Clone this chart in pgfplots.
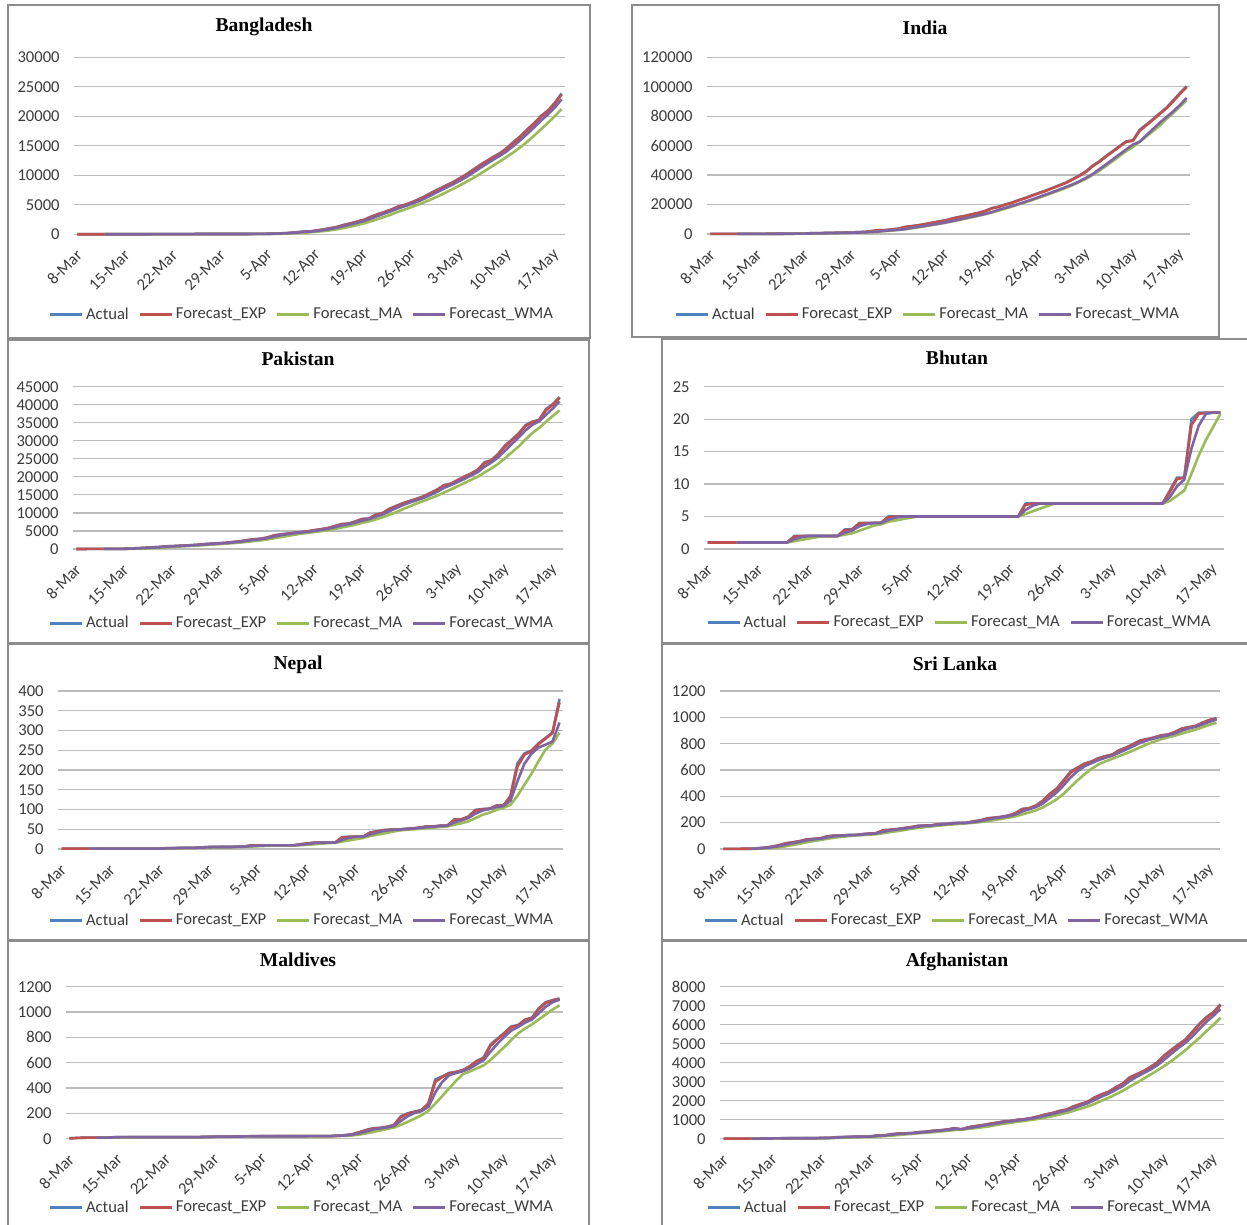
\documentclass[border=0pt]{standalone}
\usepackage{pgfplots}
\pgfplotsset{compat=1.18}
\usepackage{pgfplotstable}
\usepackage{fontspec}
\setmainfont{Carlito}
\newfontfamily\serifface{Liberation Serif}

\definecolor{cActual}{HTML}{4F81BD}
\definecolor{cExp}{HTML}{C0504D}
\definecolor{cMA}{HTML}{9BBB59}
\definecolor{cWMA}{HTML}{8064A2}
\definecolor{gridgray}{RGB}{188,188,188}
\definecolor{boxgray}{RGB}{140,140,140}
\definecolor{labelgray}{RGB}{60,60,60}

\newcommand{\lbl}{\fontsize{8.3}{10}\selectfont}
\newcommand{\ttl}{\fontsize{9.8}{12}\selectfont\serifface\bfseries}

% columns: day index (0 = 8 Mar), actual, exponential smoothing, weighted MA, 5-day MA
\pgfplotstableread{
d A E W M
0 3 3 nan nan
1 3 3 nan nan
2 3 3 nan nan
3 3 3 nan nan
4 3 3 3 3
5 3 3 3 3
6 3 3 3 3
7 5 4.8 4 3.4
8 8 7.7 6.2 4.4
9 10 9.8 8.5 5.8
10 14 13.6 11.7 8
11 17 16.7 14.8 10.8
12 20 19.7 18 13.8
13 24 23.6 21.5 17
14 27 26.7 24.8 20.4
15 33 32.4 29.5 24.2
16 39 38.3 35 28.6
17 39 38.9 38 32.4
18 44 43.5 41.5 36.4
19 48 47.6 45.2 40.6
20 48 48 47.3 43.6
21 48 48 48 45.4
22 49 48.9 48.5 47.4
23 51 50.8 49.8 48.8
24 54 53.7 52.2 50
25 56 55.8 54.5 51.6
26 61 60.5 58.2 54.2
27 70 69.1 64.7 58.4
28 88 86.1 77.5 65.8
29 123 119 103 80
30 164 160 138 101
31 218 212 184 133
32 330 318 265 185
33 424 413 358 252
34 482 475 437 324
35 621 606 542 415
36 803 783 689 532
37 1012 989 877 668
38 1231 1207 1087 830
39 1572 1536 1365 1048
40 1838 1808 1648 1291
41 2144 2110 1947 1559
42 2456 2421 2249 1848
43 2948 2895 2650 2192
44 3382 3333 3083 2554
45 3772 3728 3505 2940
46 4186 4140 3914 3349
47 4689 4634 4369 3795
48 4998 4962 4760 4205
49 5416 5371 5156 4612
50 5913 5859 5595 5040
51 6462 6402 6105 5496
52 7103 7033 6691 5978
53 7667 7604 7278 6512
54 8238 8175 7859 7077
55 8790 8729 8419 7652
56 9455 9382 9031 8251
57 10143 10067 9688 8859
58 10929 10843 10421 9511
59 11719 11631 11193 10207
60 12425 12346 11940 10934
61 13134 13055 12662 11670
62 13770 13699 13334 12395
63 14657 14561 14108 13141
64 15691 15578 15026 13935
65 16660 16552 16003 14782
66 17822 17695 17080 15720
67 18863 18746 18149 16739
68 20065 19933 19291 17820
69 20995 20889 20330 18881
70 22268 22130 21477 20003
71 23870 23696 22857 21212
}\tBD

\pgfplotstableread{
d A E W M
0 39 39 nan nan
1 43 43 nan nan
2 56 55 nan nan
3 62 61 nan nan
4 73 72 57 55
5 82 81 67 63
6 102 100 76 75
7 113 112 91 86
8 119 118 104 98
9 142 140 114 112
10 156 154 130 126
11 194 190 145 145
12 244 239 173 171
13 330 321 213 213
14 396 389 279 264
15 499 488 349 333
16 536 531 437 401
17 657 644 500 484
18 727 719 590 563
19 887 870 672 661
20 987 975 795 759
21 1024 1019 910 856
22 1251 1228 989 975
23 1397 1380 1131 1109
24 1998 1936 1286 1331
25 2543 2482 1673 1643
26 2567 2559 2170 1951
27 3082 3030 2464 2317
28 3588 3532 2821 2756
29 4778 4653 3249 3312
30 5311 5245 4099 3865
31 5916 5849 4846 4535
32 6725 6637 5525 5264
33 7598 7502 6220 6066
34 8446 8352 7027 6799
35 9205 9120 7877 7578
36 10453 10320 8684 8485
37 11487 11370 9703 9438
38 12322 12227 10762 10383
39 13430 13310 11732 11379
40 14352 14248 12737 12409
41 15722 15575 13706 13463
42 17615 17411 14883 14688
43 18539 18426 16440 15932
44 20080 19915 17762 17262
45 21370 21225 19156 18665
46 23077 22892 20468 20136
47 24530 24366 22009 21519
48 26283 26091 23519 23068
49 27890 27710 25164 24630
50 29451 29277 26794 26246
51 31324 31119 28403 27896
52 33062 32868 30127 29602
53 34863 34664 31881 31318
54 37257 36998 33673 33191
55 39699 39429 35760 35241
56 42505 42197 38079 37477
57 46437 46013 40695 40152
58 49400 49061 44003 43060
59 52987 52594 47263 46206
60 56342 55967 50700 49534
61 59662 59293 54067 52966
62 62939 62574 57444 56266
63 63500 63407 60747 59086
64 70756 70021 62673 62640
65 74292 73865 67035 66230
66 78055 77636 71315 69908
67 81997 81561 75584 73720
68 85784 85362 79399 78177
69 90648 90119 83234 82155
70 95698 95140 87585 86436
71 100328 99809 92362 90891
}\tIN

\pgfplotstableread{
d A E W M
0 6 6 nan nan
1 6 6 nan nan
2 16 15 nan nan
3 19 18.6 nan nan
4 20 19.9 19 13.4
5 28 27.2 23.8 17.8
6 31 30.6 28.2 22.8
7 53 50.8 41.5 30.2
8 136 127.5 90.8 53.6
9 236 225.2 172.2 96.8
10 299 291.6 250.8 151
11 454 437.8 366 235.6
12 501 494.7 451.7 325.2
13 730 706.5 607.7 444
14 776 769.1 714.8 552
15 875 864.4 817.8 667.2
16 972 961.2 907 770.8
17 1063 1052.8 1001.3 883.2
18 1201 1186.2 1116.8 977.4
19 1373 1354.3 1264 1096.8
20 1495 1481 1405.3 1220.8
21 1597 1585.4 1525.7 1345.8
22 1717 1703.8 1640 1476.6
23 1938 1914.6 1807.5 1624
24 2118 2097.7 1991.2 1773
25 2421 2388.7 2239.5 1958.2
26 2686 2656.3 2503 2176
27 2818 2801.8 2707.8 2396.2
28 3157 3121.5 2965.5 2640
29 3766 3701.6 3405 2969.6
30 4035 4001.7 3799 3292.4
31 4263 4236.9 4104.2 3607.8
32 4489 4463.8 4338 3942
33 4695 4671.9 4554.3 4249.6
34 4892 4870 4759.2 4474.8
35 5230 5194 5028.2 4713.8
36 5496 5465.8 5306.7 4960.4
37 5837 5799.9 5622.2 5230
38 6383 6324.7 6053.2 5567.6
39 6919 6859.6 6560 5973
40 7025 7008.5 6882.7 6332
41 7638 7575.1 7313.8 6760.4
42 8348 8270.7 7890.8 7262.6
43 8418 8403.3 8264.7 7669.6
44 9565 9448.8 8979.8 8198.8
45 9972 9919.7 9577.3 8788.2
46 11155 11031.5 10495.7 9491.6
47 11940 11849.2 11350.3 10210
48 12723 12635.6 12200.7 11071
49 13328 13258.8 12895 11823.6
50 13915 13849.4 13520.7 12612.2
51 14612 14535.7 14165.7 13303.6
52 15525 15426.1 14952.3 14020.6
53 16473 16368.3 15846.8 14770.6
54 17699 17565.9 16928 15644.8
55 18114 18059.2 17702.2 16484.6
56 19103 18998.6 18539.3 17382.8
57 20084 19975.5 19428.7 18294.6
58 20941 20844.5 20349 19188.2
59 22049 21928.6 21352.2 20058.2
60 24073 23858.6 22876.3 21250
61 24644 24565.5 24021.2 22358.2
62 26435 26248.1 25444.3 23628.4
63 28736 28487.2 27287.3 25187.4
64 30334 30149.3 29151.5 26844.4
65 32081 31887.8 30941.2 28446
66 34336 34091.2 32917.3 30384.4
67 35298 35177.3 34441.2 32157
68 35788 35726.9 35382.7 33567.4
69 38799 38491.8 37211.8 35260.4
70 40151 39985.1 38973.2 36874.4
71 42125 41911 40912.7 38432.2
}\tPK

\pgfplotstableread{
d A E W M
0 1 1 nan nan
3 1 1 nan nan
4 1 1 1 1
11 1 1 1 1
12 2 1.9 1.5 1.2
13 2 1.99 1.83 1.4
14 2 2 2 1.6
15 2 2 2 1.8
16 2 2 2 2
18 2 2 2 2
19 3 2.9 2.5 2.2
20 3 2.99 2.83 2.4
21 4 3.9 3.5 2.8
22 4 3.99 3.83 3.2
23 4 4 4 3.6
24 4 4 4 3.8
25 5 4.9 4.5 4.2
26 5 4.99 4.83 4.4
27 5 5 5 4.6
28 5 5 5 4.8
29 5 5 5 5
43 5 5 5 5
44 7 6.8 6 5.4
45 7 6.98 6.67 5.8
46 7 7 7 6.2
47 7 7 7 6.6
48 7 7 7 7
63 7 7 7 7
64 9 8.8 8 7.4
65 11 10.78 9.67 8.2
66 11 10.98 10.67 9
67 20 19.1 15.5 11.6
68 21 20.81 19 14.4
69 21 20.98 20.83 16.8
70 21 21 21 18.8
71 21 21 21 20.8
}\tBT

\pgfplotstableread{
d A E W M
0 1 1 nan nan
3 1 1 nan nan
4 1 1 1 1
14 1 1 1 1
15 2 1.9 1.5 1.2
16 2 1.99 1.83 1.4
17 3 2.9 2.5 1.8
18 3 2.99 2.83 2.2
19 3 3 3 2.6
20 4 3.9 3.5 3
21 5 4.89 4.33 3.6
22 5 4.99 4.83 4
23 5 5 5 4.4
24 5 5 5 4.8
25 6 5.9 5.5 5.2
26 6 5.99 5.83 5.4
27 9 8.7 7.5 6.2
28 9 8.97 8.5 7
29 9 9 9 7.8
30 9 9 9 8.4
31 9 9 9 9
33 9 9 9 9
34 12 11.7 10.5 9.6
35 14 13.77 12.5 10.6
36 16 15.78 14.67 12
37 16 15.98 15.67 13.4
38 16 16 16 14.8
39 16 16 16 15.6
40 30 28.6 23 18.8
41 31 30.76 28.17 21.8
42 31 30.98 30.83 24.8
43 31 31 31 27.8
44 42 40.9 36.5 33
45 45 44.59 41.67 36
46 48 47.66 46 39.4
47 49 48.87 48 43
48 49 48.99 48.83 46.6
49 51 50.8 50 48.4
50 52 51.88 51.17 49.8
51 54 53.79 52.83 51
52 57 56.68 55.17 52.6
53 57 56.97 56.5 54.2
54 59 58.8 58 55.8
55 59 58.98 58.67 57.2
56 75 73.4 67 61.4
57 75 74.84 72.33 65
58 82 81.28 78.5 70
59 99 97.23 89.33 78
60 101 100.62 97.17 86.4
61 102 101.86 101.17 91.8
62 110 109.19 105.83 98.8
63 110 109.92 108.67 104.4
64 134 131.59 122 111.4
65 217 208.46 171.5 134.6
66 242 238.65 215.67 162.6
67 249 247.97 241.33 190.4
68 267 265.1 256.83 221.8
69 281 279.41 264 251.2
70 295 293.44 272 266.8
71 380 371.3 320 294.4
}\tNP

\pgfplotstableread{
d A E W M
0 1 1 nan nan
1 1 1 nan nan
2 1 1 nan nan
3 2 1.9 nan nan
4 2 1.99 1.83 1.4
5 6 5.6 4 2.4
6 10 9.56 7.33 4.2
7 18 17.16 13.33 7.6
8 28 26.92 21.67 12.8
9 44 42.29 34.33 21.2
10 51 50.13 44.83 30.2
11 60 59.01 54.33 40.2
12 73 71.6 65 51.2
13 77 76.46 72.83 61
14 82 81.45 78.83 68.6
15 97 95.44 88.67 77.8
16 102 101.34 97 86.2
17 102 101.93 101.17 92
18 106 105.59 104 97.8
19 106 105.96 105.33 102.6
20 113 112.3 109.5 105.8
21 117 116.53 113.83 108.8
22 120 119.65 117.83 112.4
23 143 140.66 131 119.8
24 146 145.47 140.67 127.8
25 151 150.45 148 135.4
26 159 158.14 154.17 143.8
27 166 165.21 161.17 153
28 176 174.92 169.83 159.6
29 178 177.69 175.33 166
30 180 179.77 178.67 171.8
31 189 188.08 184.17 177.8
32 190 189.81 188 182.6
33 197 196.28 193.33 186.8
34 198 197.83 196.33 190.8
35 199 198.88 198.33 194.6
36 210 208.89 204.33 198.8
37 217 216.19 211.67 204.2
38 233 231.32 223.83 211.4
39 238 237.33 232.83 219.4
40 244 243.33 240.17 228.4
41 254 252.93 248 237.2
42 271 269.19 260.83 248
43 304 300.52 284.67 262.2
44 310 309.05 301.5 276.6
45 330 327.9 319 293.8
46 368 363.99 345.67 316.6
47 420 414.4 387.67 346.4
48 460 455.44 431.33 377.6
49 523 516.24 484.83 420.2
50 588 580.82 545 471.8
51 619 615.18 592.67 522
52 649 645.62 628.83 567.8
53 665 663.06 652 608.8
54 690 687.31 674.83 642.2
55 705 703.23 693.33 665.6
56 718 716.52 709 685.4
57 751 747.55 732.33 705.8
58 771 768.66 755.5 727
59 797 794.17 780.67 748.4
60 824 821.02 806.17 772.2
61 835 833.6 825 795.6
62 847 845.66 839.17 814.8
63 863 861.27 853 833.2
64 869 868.23 863.33 847.6
65 889 886.92 878 860.6
66 915 912.19 898.67 876.6
67 925 923.72 915.67 892.2
68 935 933.87 928.33 906.6
69 960 957.39 945.83 924.8
70 981 978.64 966.33 943.2
71 992 990.66 983 958.6
}\tLK

\pgfplotstableread{
d A E W M
0 2 2 nan nan
1 6 5.6 nan nan
2 8 7.76 nan nan
3 8 7.98 nan nan
4 8 8 8 6.4
5 9 8.9 8.5 7.8
6 10 9.89 9.33 8.6
7 13 12.69 11.33 9.6
8 13 12.97 12.5 10.6
9 13 13 13 11.6
10 13 13 13 12.4
11 13 13 13 13
19 13 13 13 13
20 15 14.8 14 13.4
21 16 15.88 15.17 14
22 17 16.89 16.33 14.8
23 17 16.99 16.83 15.6
24 17 17 17 16.4
25 18 17.9 17.5 17
26 19 18.89 18.33 17.6
27 19 18.99 18.83 18
28 19 19 19 18.4
29 19 19 19 18.8
30 19 19 19 19
33 19 19 19 19
34 20 19.9 19.5 19.2
35 20 19.99 19.83 19.4
36 20 20 20 19.6
37 20 20 20 19.8
38 21 20.9 20.5 20.2
39 25 24.59 22.83 21.2
40 28 27.66 25.83 22.8
41 35 34.27 31 25.8
42 52 50.23 42.33 32.2
43 69 67.12 57.67 41.8
44 82 80.51 72.67 53.2
45 85 84.55 81.33 64.6
46 94 93.06 89 76.4
47 108 106.51 99.5 87.6
48 177 169.95 140.17 109.2
49 200 197 177 132.8
50 214 212.3 203.17 158.6
51 226 224.63 217.67 185
52 280 274.46 251 219.4
53 468 448.65 365 277.6
54 491 486.77 448.17 335.8
55 519 515.78 501.17 396.8
56 527 525.88 518.33 457
57 542 540.39 533.17 509.4
58 573 569.74 555 530.4
59 614 609.57 588.33 555
60 640 636.96 620.17 579.2
61 744 733.3 687.67 622.6
62 790 784.33 749.67 672.2
63 835 829.93 804.83 724.6
64 886 880.39 853 779
65 897 895.34 883 830.4
66 940 935.53 916.67 869.6
67 955 953.05 940.33 902.6
68 1031 1023.21 990.5 941.8
69 1078 1072.52 1041.83 980.2
70 1094 1091.85 1078.17 1019.6
71 1106 1104.59 1097.33 1052.8
}\tMV

\pgfplotstableread{
d A E W M
0 4 4 nan nan
1 4 4 nan nan
2 5 4.9 nan nan
3 7 6.79 nan nan
4 7 6.98 6.67 5.4
5 7 7 7 6
6 11 10.6 9 7.4
7 16 15.46 12.83 9.6
8 21 20.45 17.67 12.4
9 22 21.84 20.67 15.4
10 22 21.98 21.83 18.4
11 22 22 22 20.6
12 24 23.8 23 22.2
13 24 23.98 23.67 22.8
14 40 38.4 32 26.4
15 40 39.84 37.33 30
16 74 70.58 57 40.4
17 84 82.66 73.33 52.4
18 94 92.87 87.33 66.4
19 110 108.29 100.33 80.4
20 110 109.83 107.33 94.4
21 120 118.98 115 103.6
22 170 164.9 143.33 120.8
23 174 173.09 163.67 136.8
24 237 230.61 204.83 162.2
25 273 268.76 244.5 194.8
26 281 279.78 271 227
27 299 297.08 288.67 252.8
28 349 343.81 321 287.8
29 367 364.68 349.67 313.8
30 423 417.17 392 343.8
31 444 441.32 424.17 376.4
32 484 479.73 460.5 413.4
33 555 547.47 512.83 454.6
34 480 486.75 505.67 477.2
35 607 594.98 556 514
36 665 658 614.83 558.2
37 714 708.4 679.83 604.2
38 784 776.44 740.83 650
39 840 833.64 800.33 722
40 906 898.76 863.67 781.8
41 933 929.58 908.5 835.4
42 996 989.36 960 891.8
43 1026 1022.34 1000.5 940.2
44 1092 1085.03 1054 990.6
45 1176 1166.9 1123 1044.6
46 1279 1267.79 1213.5 1113.8
47 1351 1342.68 1297.83 1184.8
48 1463 1450.97 1395 1272.2
49 1531 1523 1478.33 1360
50 1703 1685 1605.67 1465.4
51 1828 1813.7 1736.83 1575.2
52 1939 1926.47 1862.67 1692.8
53 2171 2146.55 2036.5 1834.4
54 2335 2316.16 2214.33 1995.2
55 2469 2453.72 2374.67 2148.4
56 2704 2678.97 2564.17 2323.6
57 2894 2872.5 2759.83 2514.6
58 3224 3188.85 3027.33 2725.2
59 3392 3371.69 3253 2936.6
60 3563 3543.87 3449.5 3155.4
61 3778 3754.59 3642 3370.2
62 4033 4005.16 3869.67 3598
63 4402 4362.32 4175 3833.6
64 4687 4654.53 4483 4092.6
65 4963 4932.15 4777.5 4372.6
66 5226 5196.62 5048.5 4662.2
67 5639 5594.76 5388.67 4983.4
68 6053 6007.18 5777.17 5313.6
69 6402 6362.52 6158.5 5656.6
70 6664 6633.85 6474.83 5996.8
71 7072 7028.19 6824.33 6366
}\tAF

\pgfplotsset{
  panel/.style={
    scale only axis,
    anchor=south west,
    xmin=-0.5, xmax=71.5,
    ymin=0,
    scaled y ticks=false,
    axis line style={draw=none},
    tick style={draw=none},
    ymajorgrids,
    major grid style={gridgray, line width=0.6pt},
    xtick={0,7,14,21,28,35,42,49,56,63,70},
    xticklabels={8-Mar,15-Mar,22-Mar,29-Mar,5-Apr,12-Apr,19-Apr,26-Apr,3-May,10-May,17-May},
    xticklabel style={font=\lbl, text=labelgray, inner sep=0pt, xshift=1pt, yshift=-9pt, rotate=45, anchor=east},
    yticklabel style={font=\lbl, text=labelgray, inner sep=0pt, xshift=-7pt, anchor=east},
    clip=false,
    legend columns=4,
    legend style={draw=none, fill=none, font=\lbl, text=labelgray, anchor=center,
      inner sep=0pt, nodes={inner sep=1.3pt},
      /tikz/every even column/.append style={column sep=3.5pt}},
    legend image code/.code={\draw[#1, line width=1.5pt] (0pt,0pt) -- (16pt,0pt);},
    every axis plot/.append style={line width=1.3pt, line join=round, no markers},
  }
}

\newcommand{\fourseries}[1]{%
  \addplot[cActual] table[x=d,y=A]{#1};
  \addplot[cExp] table[x=d,y=E]{#1};
  \addplot[cMA] table[x=d,y=M]{#1};
  \addplot[cWMA] table[x=d,y=W]{#1};
  \legend{Actual,Forecast\_EXP,Forecast\_MA,Forecast\_WMA}%
}

\begin{document}
\begin{tikzpicture}
\useasboundingbox (0pt,0pt) rectangle (623.5pt,612.5pt);
\fill[white] (0pt,0pt) rectangle (623.5pt,612.5pt);

% panel frames
\begin{scope}[draw=boxgray, line width=0.75pt]
\draw (4pt,443.5pt) rectangle (295pt,610pt);
\draw (316pt,444pt) rectangle (609.5pt,610pt);
\draw (4pt,291pt) rectangle (294.5pt,442.5pt);
\draw (331pt,291pt) rectangle (625pt,443pt);
\draw (4pt,142.5pt) rectangle (294.5pt,290.5pt);
\draw (331pt,142.5pt) rectangle (625pt,290.5pt);
\draw (4pt,-2pt) rectangle (294.5pt,142pt);
\draw (331pt,-2pt) rectangle (625pt,142pt);
\end{scope}

% panel titles (placed on their baselines)
\begin{scope}[every node/.style={font=\ttl, anchor=base, inner sep=0pt}]
\node at (132pt,596.7pt) {Bangladesh};
\node at (462.5pt,595.4pt) {India};
\node at (149pt,429.7pt) {Pakistan};
\node at (478.5pt,430pt) {Bhutan};
\node at (149pt,277.5pt) {Nepal};
\node at (477.5pt,277.2pt) {Sri Lanka};
\node at (149pt,129.2pt) {Maldives};
\node at (478.5pt,129.2pt) {Afghanistan};
\end{scope}

% Bangladesh
\begin{axis}[panel, at={(37pt,495.35pt)}, width=245.5pt, height=88.5pt,
  ymax=30000, ytick={0,5000,10000,15000,20000,25000,30000},
  yticklabels={0,5000,10000,15000,20000,25000,30000},
  legend style={at={(0.4644,-0.4559)}}]
\fourseries{\tBD}
\end{axis}

% India
\begin{axis}[panel, at={(353.5pt,495.5pt)}, width=241.5pt, height=88.35pt,
  ymax=120000, ytick={0,20000,40000,60000,80000,100000,120000},
  yticklabels={0,20000,40000,60000,80000,100000,120000},
  legend style={at={(0.4576,-0.4584)}}]
\fourseries{\tIN}
\end{axis}

% Pakistan
\begin{axis}[panel, at={(36.5pt,338pt)}, width=245pt, height=81.15pt,
  ymax=45000, ytick={0,5000,10000,15000,20000,25000,30000,35000,40000,45000},
  yticklabels={0,5000,10000,15000,20000,25000,30000,35000,40000,45000},
  legend style={at={(0.4673,-0.4584)}}]
\fourseries{\tPK}
\end{axis}

% Bhutan
\begin{axis}[panel, at={(352pt,338pt)}, width=260pt, height=81.15pt,
  ymax=25, ytick={0,5,10,15,20,25},
  yticklabels={0,5,10,15,20,25},
  legend style={at={(0.4915,-0.456)}}]
\fourseries{\tBT}
\end{axis}

% Nepal
\begin{axis}[panel, at={(29pt,188pt)}, width=252.5pt, height=79pt,
  ymax=400, ytick={0,50,100,150,200,250,300,350,400},
  yticklabels={0,50,100,150,200,250,300,350,400},
  legend style={at={(0.4832,-0.4557)}}]
\fourseries{\tNP}
\end{axis}

% Sri Lanka
\begin{axis}[panel, at={(360pt,188pt)}, width=250pt, height=79pt,
  ymax=1200, ytick={0,200,400,600,800,1000,1200},
  yticklabels={0,200,400,600,800,1000,1200},
  legend style={at={(0.474,-0.4557)}}]
\fourseries{\tLK}
\end{axis}

% Maldives
\begin{axis}[panel, at={(33pt,43.15pt)}, width=248.5pt, height=76pt,
  ymax=1200, ytick={0,200,400,600,800,1000,1200},
  yticklabels={0,200,400,600,800,1000,1200},
  legend style={at={(0.4748,-0.4559)}}]
\fourseries{\tMV}
\end{axis}

% Afghanistan
\begin{axis}[panel, at={(360pt,43.15pt)}, width=252pt, height=76pt,
  ymax=8000, ytick={0,1000,2000,3000,4000,5000,6000,7000,8000},
  yticklabels={0,1000,2000,3000,4000,5000,6000,7000,8000},
  legend style={at={(0.476,-0.4559)}}]
\fourseries{\tAF}
\end{axis}
\end{tikzpicture}
\end{document}
